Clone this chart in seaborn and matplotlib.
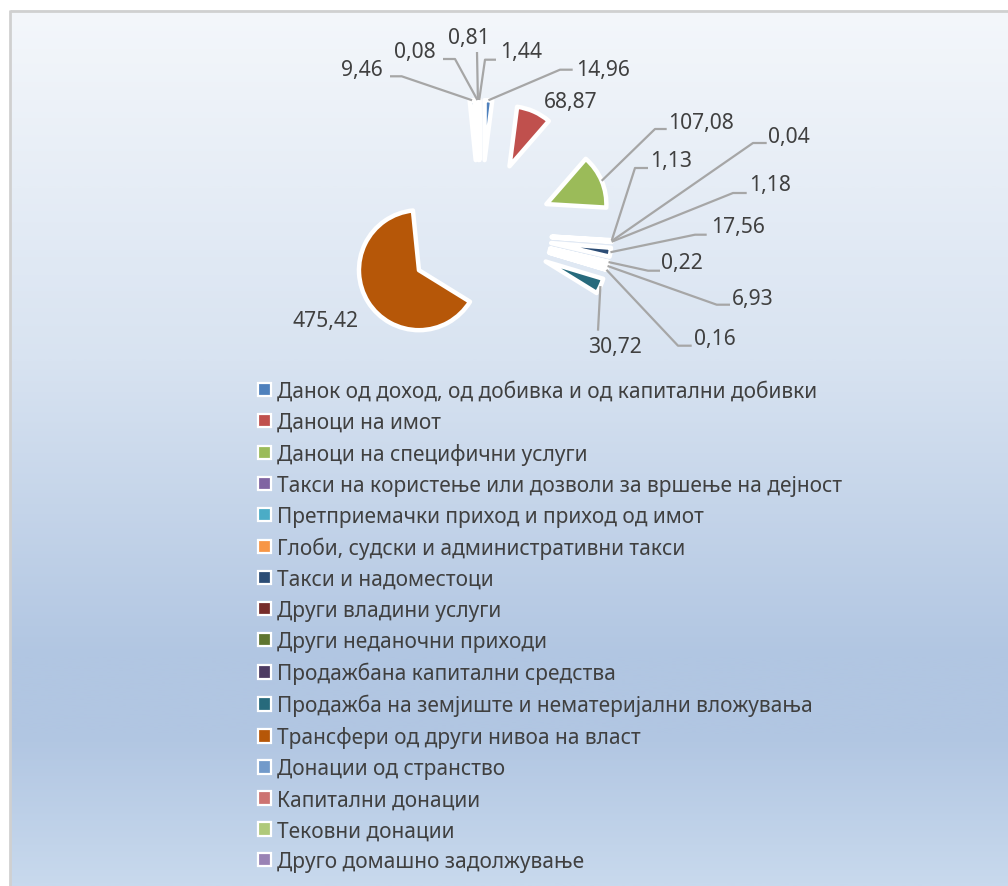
import numpy as np
import matplotlib
matplotlib.use("Agg")
import matplotlib.pyplot as plt
from matplotlib.colors import LinearSegmentedColormap
from matplotlib.patches import Patch
import seaborn as sns

# ---------------- data ----------------
categories = [
    "Данок од доход, од добивка и од капитални добивки",
    "Даноци на имот",
    "Даноци на специфични услуги",
    "Такси на користење или дозволи за вршење на дејност",
    "Претприемачки приход и приход од имот",
    "Глоби, судски и административни такси",
    "Такси и надоместоци",
    "Други владини услуги",
    "Други неданочни приходи",
    "Продажбана капитални средства",
    "Продажба на земјиште и нематеријални вложувања",
    "Трансфери од други нивоа на власт",
    "Донации од странство",
    "Капитални донации",
    "Тековни донации",
    "Друго домашно задолжување",
]
values = [14.96, 68.87, 107.08, 1.13, 0.04, 1.18, 17.56, 0.22,
          6.93, 0.16, 30.72, 475.42, 9.46, 0.08, 0.81, 1.44]
colors = ["#4F81BD", "#C0504D", "#9BBB59", "#8064A2", "#4BACC6", "#F79646",
          "#2C4D75", "#772C2A", "#5F7530", "#4D3B62", "#276A7C", "#B65708",
          "#729ACA", "#CD7371", "#AFC97A", "#9983B5"]

# ---------------- layout (pixels, y measured from top) ----------------
W, H = 1008, 887
PIE_CX, PIE_CY = 480, 233
RADIUS = 60
EXPLODE = 72
# label text centre, leader elbow, leader end (None = no leader)
label_layout = [
    ((603, 70), (560, 70.7), (572.7, 70.7)),
    ((571, 102), None, None),
    ((701, 123), (655, 130), (666.7, 130)),
    ((671, 162), (635, 169), (648, 169)),
    ((789, 137), (753, 144), (766.7, 144)),
    ((770, 185), (733, 194), (746.7, 194)),
    ((738, 228), (695, 235.7), (706.7, 235.7)),
    ((682, 264), (648, 271.7), (660, 271.7)),
    ((753, 300), (716.7, 305.7), (730, 305.7)),
    ((715, 339), (678, 346.7), (691.7, 346.7)),
    ((615, 348), (598, 331.7), (598, 331.7)),
    ((326, 322), None, None),
    ((362, 70), (401.7, 77.3), (390, 77.3)),
    ((415, 52), (455, 60), (443, 60)),
    ((469, 38), (477, 53), (477, 53)),
    ((521, 52), (485, 60.7), (496, 60.7)),
]

TEXT_COLOR = "#404040"
LEADER_COLOR = "#A6A6A6"

sns.set_theme(style="white")
plt.rcParams['font.family'] = ['Noto Sans', 'DejaVu Sans']

fig = plt.figure(figsize=(W / 100, H / 100), dpi=100)
fig.patch.set_facecolor("white")

# background gradient of the chart area
bg = fig.add_axes([0, 0, 1, 1], zorder=0)
bg.set_xlim(0, W)
bg.set_ylim(H, 0)
bg.axis("off")
grad_cmap = LinearSegmentedColormap.from_list(
    "bg", [(0.0, (244/255, 247/255, 251/255)),
           (0.40, (216/255, 227/255, 241/255)),
           (0.74, (177/255, 198/255, 226/255)),
           (0.83, (177/255, 198/255, 226/255)),
           (1.0, (200/255, 217/255, 237/255))])
grad = np.linspace(0, 1, 400).reshape(-1, 1)
bg.imshow(grad, cmap=grad_cmap, extent=(10, W, H, 11), aspect="auto",
          interpolation="bilinear")
bg.plot([10, 10], [11, H], color="#D0D0D0", lw=2, solid_capstyle="butt")
bg.plot([10, W], [12, 12], color="#D0D0D0", lw=2, solid_capstyle="butt")

# pie
ax = fig.add_axes([0, 0, 1, 1], zorder=1)
ax.patch.set_alpha(0)
cx, cy = PIE_CX, H - PIE_CY
wedges, _ = ax.pie(values, colors=colors, startangle=90, counterclock=False,
                   radius=RADIUS, center=(cx, cy),
                   explode=[EXPLODE] * len(values),
                   wedgeprops=dict(edgecolor="white", linewidth=3.2,
                                   joinstyle="round"))
ax.set_xlim(0, W)
ax.set_ylim(0, H)
ax.set_aspect("equal")
ax.axis("off")

for w, val, (tpos, elbow, end) in zip(wedges, values, label_layout):
    txt = f"{val:.2f}".replace(".", ",")
    ax.text(tpos[0], H - tpos[1], txt, ha="center", va="center",
            fontsize=15.2, color=TEXT_COLOR, zorder=5)
    if elbow is not None:
        mid = np.deg2rad((w.theta1 + w.theta2) / 2)
        sx = cx + (EXPLODE + RADIUS) * np.cos(mid)
        sy = cy + (EXPLODE + RADIUS) * np.sin(mid)
        ax.plot([sx, elbow[0], end[0]], [sy, H - elbow[1], H - end[1]],
                color=LEADER_COLOR, lw=1.6, zorder=4, solid_capstyle="butt")

handles = [Patch(facecolor=c, edgecolor="white", linewidth=1.6) for c in colors]
leg = ax.legend(handles, categories, loc="upper left",
                bbox_to_anchor=(258 / W, 1 - 382 / H),
                bbox_transform=fig.transFigure, frameon=False,
                fontsize=15.05, labelcolor=TEXT_COLOR,
                handlelength=0.62, handleheight=0.62, handletextpad=0.29,
                labelspacing=0.475, borderpad=0, borderaxespad=0)

fig.savefig("out.png", dpi=100)
